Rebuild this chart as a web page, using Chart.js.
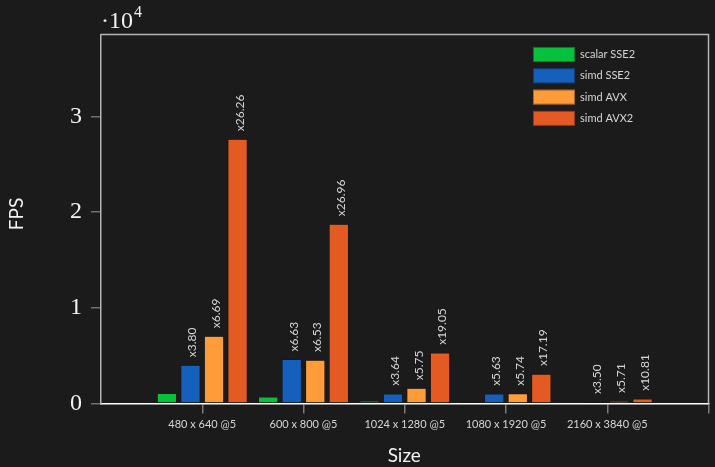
<!DOCTYPE html>
<html>
<head>
<meta charset="utf-8">
<script src="https://cdn.jsdelivr.net/npm/chart.js@4/dist/chart.umd.min.js"></script>
<style>
  html, body { margin: 0; padding: 0; background: #1b1b1b; }
  #wrap { width: 715px; height: 467px; }
</style>
</head>
<body>
<div id="wrap"><canvas id="c" width="715" height="467"></canvas></div>
<script>
// Image sizes benchmarked (batch of 5)
const sizes = ['480 x 640 @5', '600 x 800 @5', '1024 x 1280 @5', '1080 x 1920 @5', '2160 x 3840 @5'];

// Baseline throughput of the scalar SSE2 path, frames per second
const scalarFps = [1052, 695, 278, 179, 45];

// Speedups over the scalar path
const speedupSse2 = [3.80, 6.63, 3.64, 5.63, 3.50];
const speedupAvx  = [6.69, 6.53, 5.75, 5.74, 5.71];
const speedupAvx2 = [26.26, 26.96, 19.05, 17.19, 10.81];

// Y axis ticks (FPS)
const yTicks = [0, 10000, 20000, 30000];
const yMax = 38560;

const seriesNames = ['scalar SSE2', 'simd SSE2', 'simd AVX', 'simd AVX2'];
const seriesColors = ['#06c03e', '#1560bd', '#fd9c38', '#e35a22'];

// category axis runs one empty slot past each end
const pad = v => [null, ...v, null];
const fpsFrom = s => scalarFps.map((f, i) => f * s[i]);

const speedups = [null, speedupSse2, speedupAvx, speedupAvx2];
const values = [scalarFps, fpsFrom(speedupSse2), fpsFrom(speedupAvx), fpsFrom(speedupAvx2)];

const labelFont = 'Lato, "Open Sans", sans-serif';
const serifFont = '"Liberation Serif", "DejaVu Serif", serif';

const datasets = seriesNames.map((name, k) => ({
  label: name,
  data: pad(values[k]),
  speedup: speedups[k] ? pad(speedups[k]) : null,
  backgroundColor: seriesColors[k],
  borderColor: '#101010',
  borderWidth: 0.6,
  borderSkipped: false,
  categoryPercentage: 0.93,
  barPercentage: 0.83
}));

// frame, speedup labels, legend and axis titles
const decorations = {
  id: 'decorations',
  afterDatasetsDraw(chart) {
    const ctx = chart.ctx;

    // speedup annotations above the SIMD bars
    ctx.save();
    ctx.fillStyle = '#d6d6d6';
    ctx.font = '12px ' + labelFont;
    ctx.textAlign = 'left';
    ctx.textBaseline = 'alphabetic';
    chart.data.datasets.forEach((ds, di) => {
      if (!ds.speedup) return;
      chart.getDatasetMeta(di).data.forEach((bar, i) => {
        const s = ds.speedup[i];
        if (s == null) return;
        ctx.save();
        ctx.translate(bar.x + 6, bar.y - 8);
        ctx.rotate(-Math.PI / 2);
        ctx.fillText('x' + s.toFixed(2), 0, 0);
        ctx.restore();
      });
    });
    ctx.restore();
  },
  afterDraw(chart) {
    const ctx = chart.ctx;
    const area = chart.chartArea;
    ctx.save();

    // top and right frame lines
    ctx.strokeStyle = '#b4b4b4';
    ctx.lineWidth = 1.5;
    ctx.beginPath();
    ctx.moveTo(area.left, area.top);
    ctx.lineTo(area.right, area.top);
    ctx.lineTo(area.right, area.bottom);
    ctx.stroke();

    // legend
    const lx = 533, ly = 47, bw = 42, bh = 15, step = 21.3;
    chart.data.datasets.forEach((ds, i) => {
      const y = ly + i * step;
      ctx.fillStyle = ds.backgroundColor;
      ctx.fillRect(lx, y, bw, bh);
      ctx.strokeStyle = 'rgba(0,0,0,0.35)';
      ctx.lineWidth = 1;
      ctx.strokeRect(lx + 0.5, y + 0.5, bw - 1, bh - 1);
      ctx.fillStyle = '#d6d6d6';
      ctx.font = '11px ' + labelFont;
      ctx.textAlign = 'left';
      ctx.textBaseline = 'middle';
      ctx.fillText(ds.label, lx + bw + 5, y + bh / 2);
    });

    // axis titles
    ctx.fillStyle = '#f2f2f2';
    ctx.font = '19px ' + labelFont;
    ctx.textAlign = 'center';
    ctx.textBaseline = 'middle';
    ctx.fillText('Size', (area.left + area.right) / 2 - 0.5, 456);
    ctx.save();
    ctx.translate(17, 214);
    ctx.rotate(-Math.PI / 2);
    ctx.fillText('FPS', 0, 0);
    ctx.restore();

    // y-axis multiplier
    ctx.fillStyle = '#f2f2f2';
    ctx.textAlign = 'left';
    ctx.textBaseline = 'alphabetic';
    ctx.font = '24px ' + serifFont;
    ctx.fillText('\u00b710', 101, 28);
    const w = ctx.measureText('\u00b710').width;
    ctx.font = '16px ' + serifFont;
    ctx.fillText('4', 101 + w + 1, 17);

    ctx.restore();
  }
};

new Chart(document.getElementById('c'), {
  type: 'bar',
  data: { labels: ['', ...sizes, ''], datasets },
  plugins: [decorations],
  options: {
    responsive: false,
    animation: false,
    devicePixelRatio: 1,
    layout: { padding: { top: 34.5, right: 6.5, left: 0, bottom: 0 } },
    plugins: { legend: { display: false }, tooltip: { enabled: false } },
    scales: {
      x: {
        offset: false,
        afterFit: s => { s.height = 63.5; },
        grid: {
          offset: false,
          drawOnChartArea: false,
          drawTicks: true,
          tickLength: 10,
          lineWidth: 1.5,
          color: c => (c.index === 0 ? 'rgba(0,0,0,0)' : '#7a7a7a')
        },
        border: { color: '#ffffff', width: 1.5 },
        ticks: {
          color: '#d6d6d6',
          font: { family: labelFont, size: 11 },
          padding: 4,
          maxRotation: 0,
          autoSkip: false
        }
      },
      y: {
        min: 0,
        max: yMax,
        afterFit: s => { s.width = 101; },
        afterBuildTicks: s => { s.ticks = yTicks.map(v => ({ value: v })); },
        grid: {
          drawOnChartArea: false,
          drawTicks: true,
          tickLength: 10,
          lineWidth: 1.5,
          color: '#6e6e6e'
        },
        border: { color: '#b4b4b4', width: 1.5 },
        ticks: {
          color: '#f2f2f2',
          font: { family: serifFont, size: 24 },
          padding: 9,
          callback: v => String(v / 10000)
        }
      }
    }
  }
});
</script>
</body>
</html>
